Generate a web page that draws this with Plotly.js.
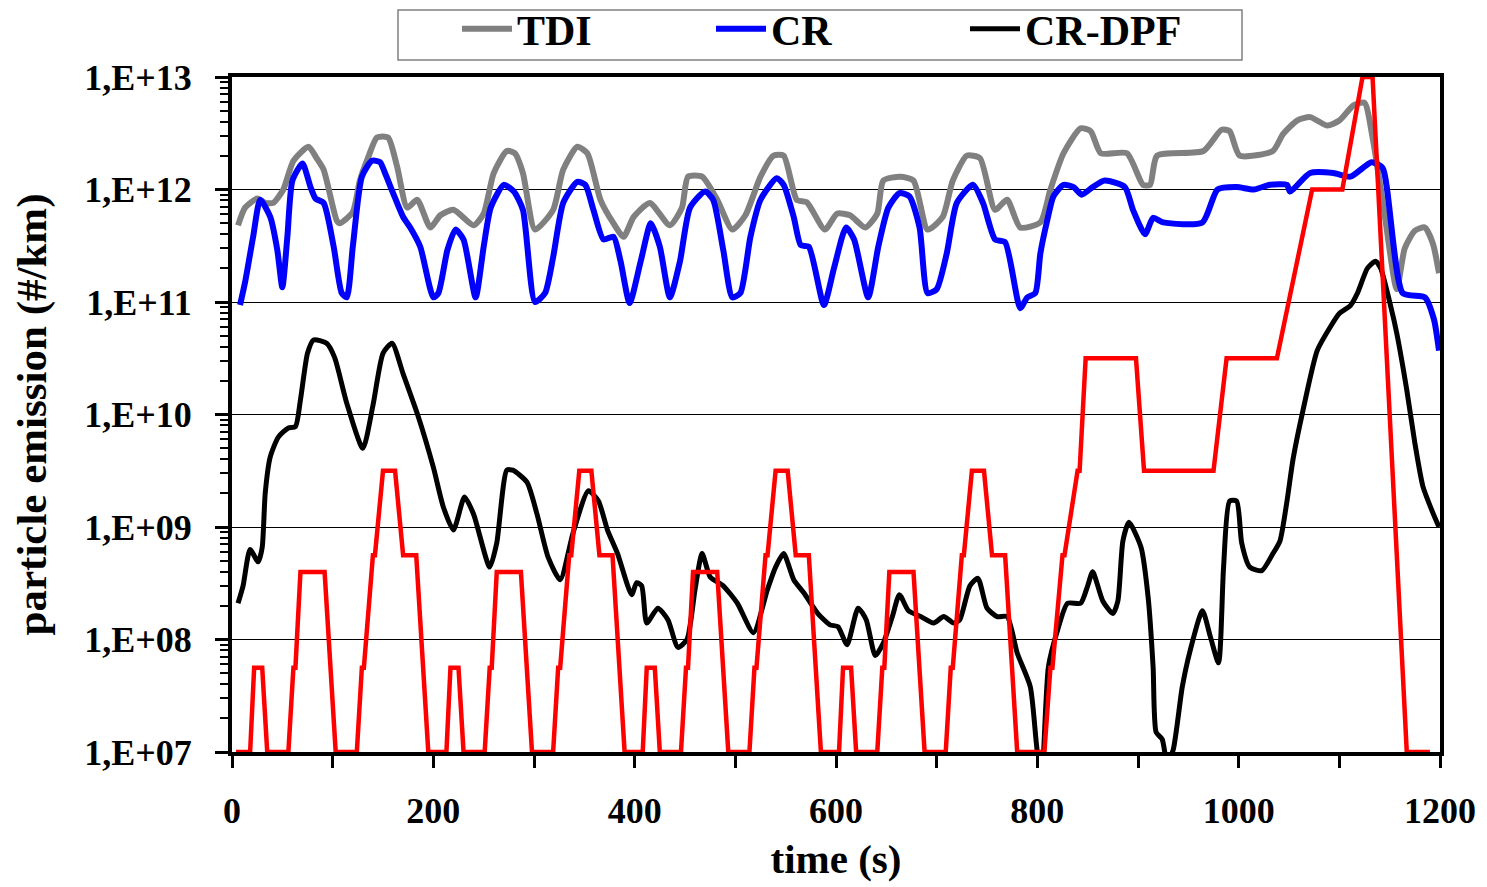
<!DOCTYPE html>
<html>
<head>
<meta charset="utf-8">
<script src="https://cdn.plot.ly/plotly-3.0.1.min.js"></script>
<style>html,body{margin:0;padding:0;background:#fff;}#chart{width:1487px;height:887px;}</style>
</head>
<body>
<div id="chart"></div>
<script>
// ---------- data ----------
const tdiTime = [6,13,25,33,41,51,61,76,84,91,104,107,120,127,135,144,155,164,174,184,197,207,220,240,250,260,273,281,289,301,319,329,343,353,366,379,389,399,415,435,447,453,467,482,497,510,525,538,548,561,571,589,601,614,629,641,647,664,677,691,706,716,730,743,758,770,783,803,813,826,843,853,863,889,905,912,919,965,983,991,1001,1034,1044,1058,1071,1088,1100,1114,1125,1133,1145,1157,1165,1175,1185,1193,1199];
const tdiValue = [4.8e11,6.9e11,8.3e11,7.6e11,7.6e11,1.0e12,1.8e12,2.4e12,1.9e12,1.5e12,5.3e11,5.0e11,6.3e11,1.2e12,1.9e12,2.9e12,2.9e12,1.6e12,6.9e11,8.1e11,4.6e11,5.9e11,6.6e11,4.8e11,6.1e11,1.4e12,2.2e12,2.1e12,1.4e12,4.4e11,6.6e11,1.5e12,2.4e12,2.1e12,8.1e11,5.0e11,3.8e11,5.7e11,7.6e11,4.8e11,6.9e11,1.3e12,1.3e12,8.1e11,4.4e11,5.9e11,1.3e12,2.0e12,2.0e12,8.1e11,7.7e11,4.4e11,6.1e11,5.9e11,4.6e11,6.1e11,1.2e12,1.3e12,1.2e12,4.4e11,5.7e11,1.2e12,2.0e12,1.9e12,6.6e11,8.1e11,4.6e11,5.1e11,1.0e12,2.1e12,3.5e12,3.3e12,2.1e12,2.1e12,1.1e12,1.1e12,2.0e12,2.2e12,3.4e12,3.3e12,2.0e12,2.2e12,3.1e12,4.1e12,4.4e12,3.7e12,4.1e12,5.6e12,5.9e12,2.9e12,6.0e11,1.3e11,3.0e11,4.3e11,4.6e11,3.3e11,1.8e11];

const crTime = [8,13,21,28,38,45,50,55,60,70,78,83,91,101,109,114,120,129,139,147,152,160,170,177,187,200,205,214,222,230,242,250,257,270,280,289,301,311,319,329,343,351,359,369,379,386,395,406,416,425,435,445,455,470,478,488,497,505,515,525,541,548,558,565,573,588,598,610,618,632,642,652,663,673,683,691,700,710,720,736,746,758,768,783,790,798,803,810,816,826,836,844,855,867,887,895,907,915,925,964,979,998,1015,1031,1048,1051,1071,1094,1111,1132,1143,1163,1185,1194,1199];
const crValue = [9.4e10,1.5e11,3.8e11,8.1e11,5.7e11,2.9e11,1.35e11,3.8e11,1.2e12,1.7e12,1.05e12,8.3e11,7.6e11,3.1e11,1.2e11,1.1e11,3.1e11,1.3e12,1.8e12,1.75e12,1.4e12,9.3e11,5.7e11,4.6e11,3.1e11,1.1e11,1.2e11,2.9e11,4.4e11,3.6e11,1.1e11,3.1e11,6.9e11,1.1e12,9.6e11,6.6e11,1.0e11,1.2e11,2.5e11,7.6e11,1.17e12,1.1e12,6.6e11,3.6e11,3.8e11,2.3e11,9.8e10,2.3e11,5.0e11,3.1e11,1.1e11,2.3e11,6.9e11,9.6e11,8.1e11,2.9e11,1.1e11,1.2e11,3.8e11,8.1e11,1.26e12,1.1e12,5.7e11,3.2e11,3.1e11,9.4e10,2.0e11,4.6e11,3.6e11,1.1e11,3.1e11,6.9e11,9.3e11,8.7e11,4.6e11,1.2e11,1.3e11,2.7e11,7.6e11,1.1e12,7.6e11,3.6e11,3.4e11,8.8e10,1.1e11,1.2e11,2.7e11,5.4e11,8.7e11,1.1e12,1.05e12,9.0e11,1.05e12,1.2e12,1.05e12,6.6e11,4.0e11,5.6e11,5.1e11,5.1e11,1.0e12,1.05e12,1.0e12,1.1e12,1.1e12,9.6e11,1.4e12,1.4e12,1.3e12,1.75e12,1.55e12,1.2e11,1.1e11,7.0e10,3.7e10];

const dpfTime = [6,11,18,26,30,33,38,46,56,63,68,75,81,94,102,114,130,140,150,159,170,185,200,210,220,231,240,256,263,273,279,293,303,314,326,339,354,364,373,383,397,402,407,412,423,433,443,452,460,467,475,488,502,518,532,540,548,558,568,582,594,602,611,622,630,639,647,656,663,672,684,697,707,717,723,733,741,750,760,770,780,793,799,804,811,820,830,843,850,855,865,875,880,885,891,903,910,915,918,924,929,935,944,952,964,972,980,985,991,998,1003,1011,1023,1034,1041,1048,1054,1064,1078,1091,1100,1111,1118,1128,1136,1141,1151,1157,1167,1175,1183,1192,1199];
const dpfValue = [2.1e8,3.0e8,6.3e8,4.9e8,6.6e8,2.0e9,4.2e9,6.3e9,7.6e9,7.8e9,1.35e10,3.5e10,4.6e10,4.3e10,3.2e10,1.26e10,5.0e9,1.2e10,3.5e10,4.3e10,2.3e10,9.6e9,3.4e9,1.5e9,9.4e8,1.85e9,1.3e9,4.4e8,7.2e8,3.2e9,3.2e9,2.5e9,1.3e9,5.4e8,3.4e8,9.0e8,2.1e9,1.7e9,9.4e8,5.8e8,2.5e8,3.2e8,3.0e8,1.4e8,1.9e8,1.5e8,8.5e7,1.0e8,2.8e8,5.8e8,3.6e8,3.0e8,2.1e8,1.15e8,2.8e8,4.4e8,5.8e8,3.4e8,2.6e8,1.7e8,1.35e8,1.3e8,9.0e7,1.9e8,1.5e8,7.2e7,9.3e7,1.6e8,2.5e8,1.8e8,1.6e8,1.4e8,1.6e8,1.4e8,1.5e8,3.0e8,3.5e8,1.9e8,1.6e8,1.6e8,7.6e7,3.8e7,1.2e7,5.0e6,5.7e7,1.2e8,2.1e8,2.1e8,3.0e8,4.0e8,2.2e8,1.7e8,2.2e8,7.5e8,1.1e9,6.6e8,2.4e8,5.7e7,1.5e7,1.3e7,8.0e6,1.05e7,3.8e7,8.1e7,1.8e8,1.05e8,6.2e7,4.4e8,1.7e9,1.7e9,7.2e8,4.4e8,4.1e8,5.8e8,7.5e8,1.7e9,4.0e9,1.1e10,3.7e10,6.0e10,7.9e10,9.3e10,1.2e11,2.0e11,2.3e11,2.0e11,9.2e10,5.3e10,1.65e10,5.6e9,2.3e9,1.4e9,1.0e9];

// driving cycle speed (km/h), drawn on a hidden secondary axis
const speedTime = [4,18,22,30,35,56,61,63,68,92,103,124,129,131,140,142,150,162,170,183,195,
  213,217,225,230,251,256,258,263,287,298,319,324,326,335,337,345,357,365,378,390,
  408,412,420,425,446,451,453,458,482,493,514,519,521,530,532,540,552,560,573,585,
  603,607,615,620,641,646,648,653,677,688,709,714,716,725,727,735,747,755,768,780,
  807,813,815,825,827,840,842,848,898,906,975,988,1038,1073,1103,1123,1133,1167,1190];
const speedValue = [0,0,15,15,0,0,15,15,32,32,0,0,15,15,35,35,50,50,35,35,0,
  0,15,15,0,0,15,15,32,32,0,0,15,15,35,35,50,50,35,35,0,
  0,15,15,0,0,15,15,32,32,0,0,15,15,35,35,50,50,35,35,0,
  0,15,15,0,0,15,15,32,32,0,0,15,15,35,35,50,50,35,35,0,
  0,15,15,35,35,50,50,70,70,50,50,70,70,100,100,120,120,0,0];

const yTickVals = [1e7,1e8,1e9,1e10,1e11,1e12,1e13];
const yTickText = ['1,E+07','1,E+08','1,E+09','1,E+10','1,E+11','1,E+12','1,E+13'];
const xTickVals = [0,200,400,600,800,1000,1200];

// ---------- chart ----------
const FONT = 'Liberation Serif, Times New Roman, serif';
const minorVals = [];
for (let e = 7; e < 13; e++) for (let m = 2; m <= 9; m++) minorVals.push(m * Math.pow(10, e));

const smooth = {shape: 'spline', smoothing: 0.6};
const traces = [
  {x: tdiTime, y: tdiValue, name: 'TDI', mode: 'lines', line: Object.assign({color: '#808080', width: 6}, smooth)},
  {x: crTime, y: crValue, name: 'CR', mode: 'lines', line: Object.assign({color: '#0000FF', width: 6}, smooth)},
  {x: dpfTime, y: dpfValue, name: 'CR-DPF', mode: 'lines', line: Object.assign({color: '#000000', width: 5}, smooth)},
  {x: speedTime, y: speedValue, name: 'speed', yaxis: 'y2', mode: 'lines', showlegend: false,
   line: {color: '#FF0000', width: 4.5}}
];

const L = 232, R = 1440, T = 77, B = 752;
const px = v => (v - L) / (R - L);
const py = v => (B - v) / (B - T);

const layout = {
  width: 1487, height: 887,
  margin: {l: L, r: 1487 - R, t: T, b: 887 - B, autoexpand: false},
  paper_bgcolor: '#ffffff', plot_bgcolor: '#ffffff',
  font: {family: FONT, color: '#000', weight: 'bold'},
  showlegend: true,
  xaxis: {
    range: [0, 1200], tickvals: xTickVals, ticks: 'outside', ticklen: 12, tickwidth: 3, tickcolor: '#000',
    showline: true, linewidth: 4, linecolor: '#000', mirror: true, showgrid: false, zeroline: false,
    tickfont: {family: FONT, size: 36, color: '#000', weight: 'bold'}, ticklabelstandoff: 12,
    minor: {dtick: 100, ticks: 'outside', ticklen: 12, tickwidth: 3, tickcolor: '#000', showgrid: false},
    title: {text: 'time (s)', font: {family: FONT, size: 41, color: '#000', weight: 'bold'}, standoff: 15}
  },
  yaxis: {
    type: 'log', range: [7, 13], tickvals: yTickVals, ticktext: yTickText,
    ticks: 'outside', ticklen: 13, tickwidth: 3, tickcolor: '#000',
    showline: true, linewidth: 4, linecolor: '#000', mirror: true,
    showgrid: true, gridcolor: '#000', gridwidth: 1, zeroline: false,
    tickfont: {family: FONT, size: 36, color: '#000', weight: 'bold'}, ticklabelstandoff: 16,
    minor: {tickvals: minorVals, ticks: 'outside', ticklen: 8, tickwidth: 2, tickcolor: '#000', showgrid: false},
    title: {text: 'particle emission (#/km)', font: {family: FONT, size: 43, color: '#000', weight: 'bold'}, standoff: 25}
  },
  yaxis2: {overlaying: 'y', range: [0, 120], visible: false, showgrid: false, zeroline: false, fixedrange: true},
  shapes: [{
    type: 'rect', xref: 'paper', yref: 'paper',
    x0: px(398), x1: px(1242), y0: py(60), y1: py(10),
    line: {color: '#808080', width: 1.5}, fillcolor: '#ffffff', layer: 'below'
  }],
  legend: {
    orientation: 'h', x: px(457), xanchor: 'left', y: py(-5), yanchor: 'top',
    bgcolor: 'rgba(0,0,0,0)', borderwidth: 0, itemwidth: 50,
    entrywidth: 189, entrywidthmode: 'pixels',
    font: {family: FONT, size: 42, color: '#000', weight: 'bold'}
  }
};

Plotly.newPlot('chart', traces, layout, {displayModeBar: false, staticPlot: true});
</script>
</body>
</html>
